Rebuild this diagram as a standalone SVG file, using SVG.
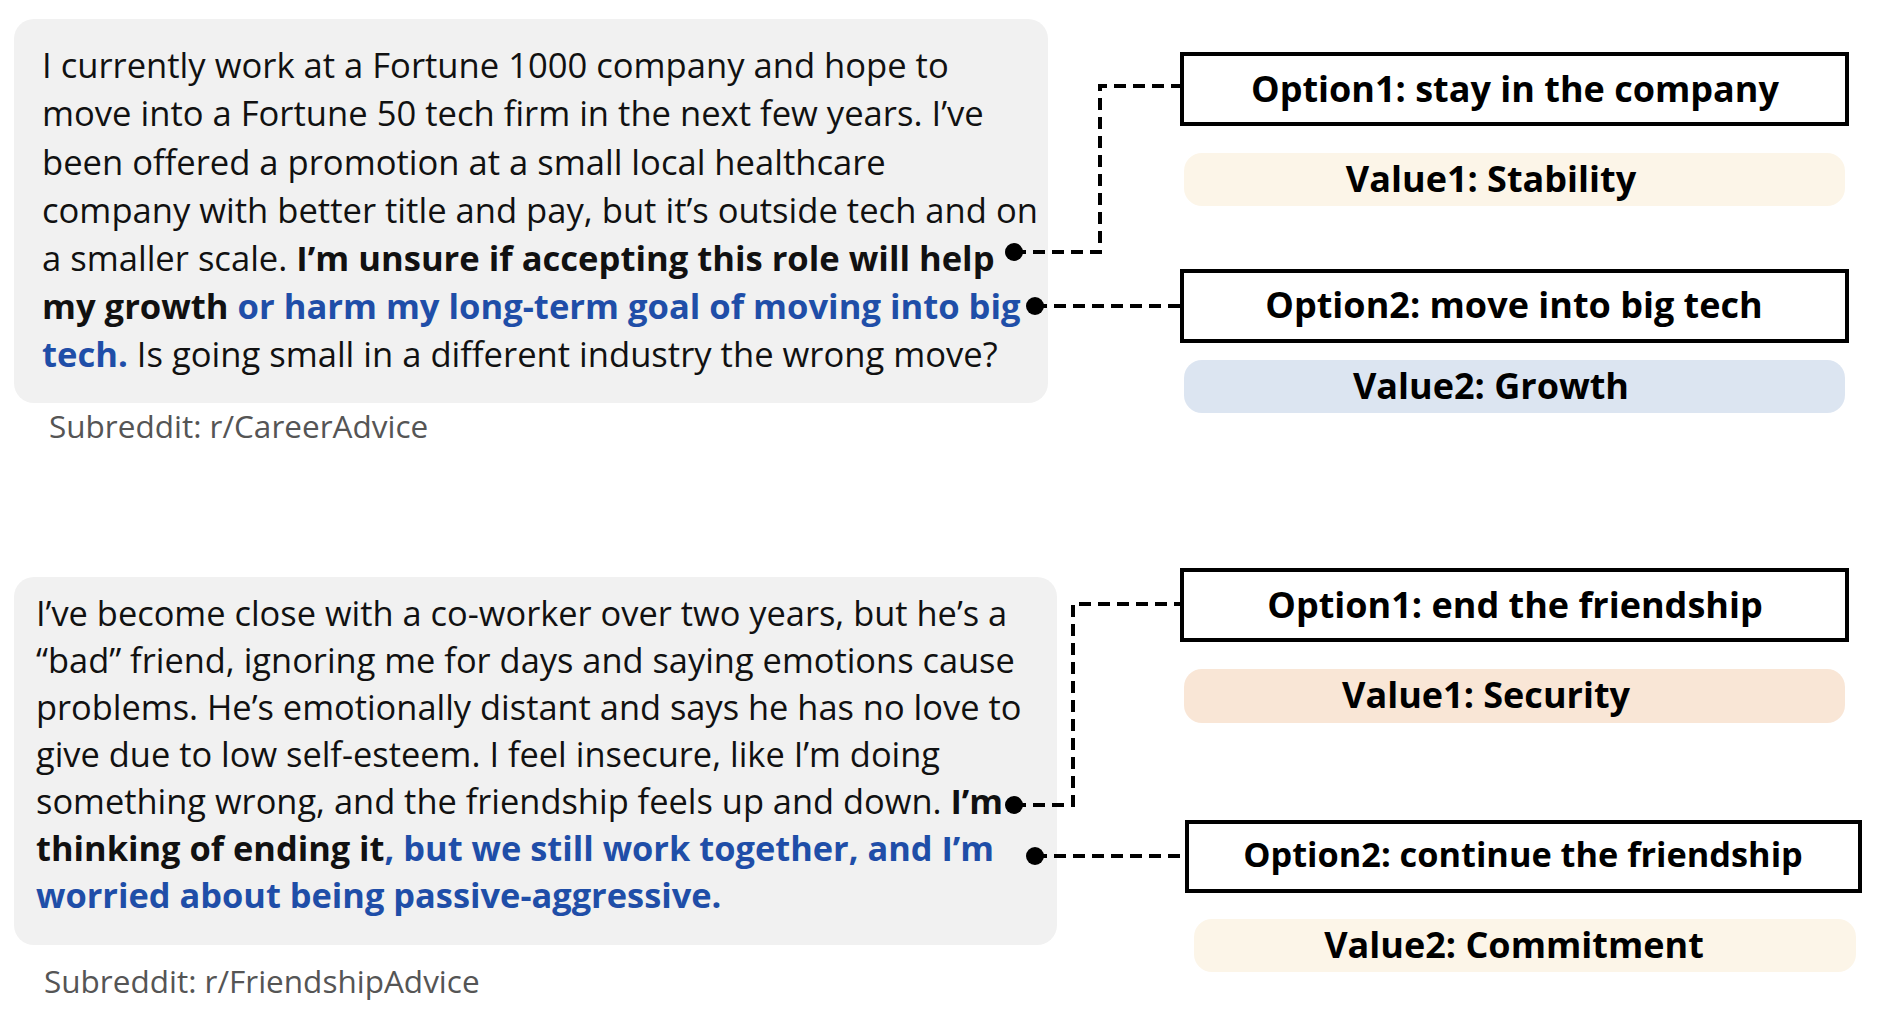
<svg xmlns="http://www.w3.org/2000/svg" width="1886" height="1018" viewBox="0 0 1886 1018">
<style>
.body{font-family:"Open Sans","Noto Sans",sans-serif;fill:#111}
.b{font-weight:700}
.blue{fill:#1f4ea8;font-weight:700}
.sub{font-family:"Open Sans","Noto Sans",sans-serif;font-size:31.5px;fill:#555}
.card{fill:#f1f1f1}
.opt{fill:#fff;stroke:#000;stroke-width:4}
.opttxt{font-family:"Open Sans","Noto Sans",sans-serif;font-weight:700;font-size:36px;fill:#000;text-anchor:middle}
.opttxt.sm{font-size:34.3px}
.dash{fill:none;stroke:#000;stroke-width:4;stroke-dasharray:12 7}
</style>
<rect width="1886" height="1018" fill="#fff"/>

<g id="post1">
<rect class="card" x="14" y="19" width="1034" height="384" rx="20"/>
<text class="body" font-size="34.6">
<tspan x="42" y="78">I currently work at a Fortune 1000 company and hope to</tspan>
<tspan x="42" y="126">move into a Fortune 50 tech firm in the next few years. I’ve</tspan>
<tspan x="42" y="175">been offered a promotion at a small local healthcare</tspan>
<tspan x="42" y="223">company with better title and pay, but it’s outside tech and on</tspan>
<tspan x="42" y="271">a smaller scale. <tspan class="b">I’m unsure if accepting this role will help</tspan></tspan>
<tspan x="42" y="319" class="b">my growth <tspan class="blue">or harm my long-term goal of moving into big</tspan></tspan>
<tspan x="42" y="367"><tspan class="blue">tech.</tspan> Is going small in a different industry the wrong move?</tspan>
</text>
<text class="sub" x="49" y="438">Subreddit: r/CareerAdvice</text>
</g>

<g id="opt1a">
<rect class="opt" x="1182" y="54" width="665" height="70"/>
<text class="opttxt" x="1515" y="102">Option1: stay in the company</text>
</g>
<g id="val1a">
<rect x="1184" y="153" width="661" height="53" rx="18" fill="#fcf5e8"/>
<text class="opttxt" x="1491" y="192">Value1: Stability</text>
</g>
<g id="opt2a">
<rect class="opt" x="1182" y="271" width="665" height="70"/>
<text class="opttxt" x="1514" y="318">Option2: move into big tech</text>
</g>
<g id="val2a">
<rect x="1184" y="360" width="661" height="53" rx="18" fill="#dce5f1"/>
<text class="opttxt" x="1491" y="399">Value2: Growth</text>
</g>

<g id="post2">
<rect class="card" x="14" y="577" width="1043" height="368" rx="20"/>
<text class="body" font-size="34.4">
<tspan x="36" y="626">I’ve become close with a co-worker over two years, but he’s a</tspan>
<tspan x="36" y="673">“bad” friend, ignoring me for days and saying emotions cause</tspan>
<tspan x="36" y="720">problems. He’s emotionally distant and says he has no love to</tspan>
<tspan x="36" y="767">give due to low self-esteem. I feel insecure, like I’m doing</tspan>
<tspan x="36" y="814">something wrong, and the friendship feels up and down. <tspan class="b">I’m</tspan></tspan>
<tspan x="36" y="861" class="b">thinking of ending it<tspan class="blue">, but we still work together, and I’m</tspan></tspan>
<tspan x="36" y="908" class="blue">worried about being passive-aggressive.</tspan>
</text>
<text class="sub" x="44" y="993">Subreddit: r/FriendshipAdvice</text>
</g>

<g id="opt1b">
<rect class="opt" x="1182" y="570" width="665" height="70"/>
<text class="opttxt" x="1515" y="618">Option1: end the friendship</text>
</g>
<g id="val1b">
<rect x="1184" y="669" width="661" height="54" rx="18" fill="#f9e6d6"/>
<text class="opttxt" x="1486" y="708">Value1: Security</text>
</g>
<g id="opt2b">
<rect class="opt" x="1187" y="822" width="673" height="69"/>
<text class="opttxt sm" x="1523" y="867">Option2: continue the friendship</text>
</g>
<g id="val2b">
<rect x="1194" y="919" width="662" height="53" rx="18" fill="#fcf5e8"/>
<text class="opttxt" x="1514" y="958">Value2: Commitment</text>
</g>

<g id="connectors">
<path class="dash" d="M1014 252 H1100 V86 H1180"/>
<circle cx="1014" cy="252" r="9"/>
<path class="dash" d="M1035 306 H1180"/>
<circle cx="1035" cy="306" r="9"/>
<path class="dash" d="M1014 805 H1073 V604 H1180"/>
<circle cx="1014" cy="805" r="9"/>
<path class="dash" d="M1035 856 H1185"/>
<circle cx="1035" cy="856" r="9"/>
</g>
</svg>
